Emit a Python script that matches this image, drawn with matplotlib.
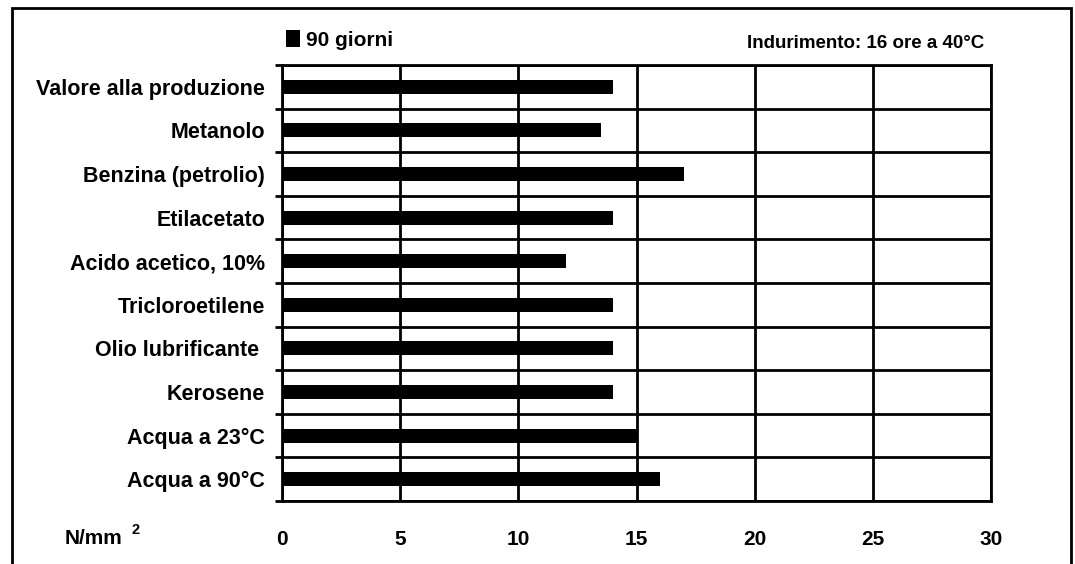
import matplotlib.pyplot as plt
from matplotlib.patches import Rectangle, Patch

plt.rcParams['font.family'] = ['Liberation Sans', 'DejaVu Sans']
plt.rcParams['font.weight'] = 'bold'

categories = ["Valore alla produzione", "Metanolo", "Benzina (petrolio)", "Etilacetato",
              "Acido acetico, 10%", "Tricloroetilene", "Olio lubrificante ", "Kerosene",
              "Acqua a 23°C", "Acqua a 90°C"]
values_90 = [14, 13.5, 17, 14, 12, 14, 14, 14, 15, 16]
xticks = [0, 5, 10, 15, 20, 25, 30]

fig = plt.figure(figsize=(10.75, 5.64), dpi=100)
ax = fig.add_axes([0.2623, 0.1117, 0.6596, 0.7731])

pos = list(range(len(categories)))
ax.barh(pos, values_90, height=0.32, color="black", zorder=3)

ax.set_xlim(0, 30)
ax.set_ylim(len(categories) - 0.5, -0.5)

# boundaries between categories -> gridlines + outward ticks
ax.set_yticks([i - 0.5 for i in range(len(categories) + 1)])
ax.set_yticklabels([])
ax.tick_params(axis="y", which="major", length=5, width=2, direction="out")
ax.set_yticks(pos, minor=True)
ax.set_yticklabels(categories, minor=True, fontsize=15.5, fontweight="bold")
ax.tick_params(axis="y", which="minor", length=0, pad=12)

ax.set_xticks(xticks)
ax.set_xticklabels([str(t) for t in xticks], fontsize=15, fontweight="bold")
ax.tick_params(axis="x", length=0, pad=21)

ax.grid(True, which="major", color="black", linewidth=2, zorder=1)
for s in ax.spines.values():
    s.set_linewidth(2)
    s.set_color("black")

# N/mm2 unit label
fig.text(65 / 1075, 1 - 538 / 564, "N/mm", fontsize=15, fontweight="bold",
         ha="left", va="center")
fig.text(131 / 1075, 1 - 530 / 564, "2", fontsize=10.5, fontweight="bold",
         ha="left", va="center")

# legend
leg = ax.legend(handles=[Patch(facecolor="black", label="90 giorni")], loc="center left",
                bbox_to_anchor=(286 / 1075, 1 - 40 / 564), bbox_transform=fig.transFigure,
                frameon=False, fontsize=15, handlelength=0.65, handleheight=0.9,
                handletextpad=0.3, borderpad=0, borderaxespad=0)
for t in leg.get_texts():
    t.set_fontweight("bold")

fig.text(984 / 1075, 1 - 44 / 564, "Indurimento: 16 ore a 40°C", fontsize=13.5,
         fontweight="bold", ha="right", va="center")

# outer frame
fig.patches.append(Rectangle((12 / 1075, -0.05), (1071 - 12) / 1075, 1.05 - 8 / 564,
                             transform=fig.transFigure, fill=False, edgecolor="black",
                             linewidth=2))

fig.savefig("out.png", dpi=100)
